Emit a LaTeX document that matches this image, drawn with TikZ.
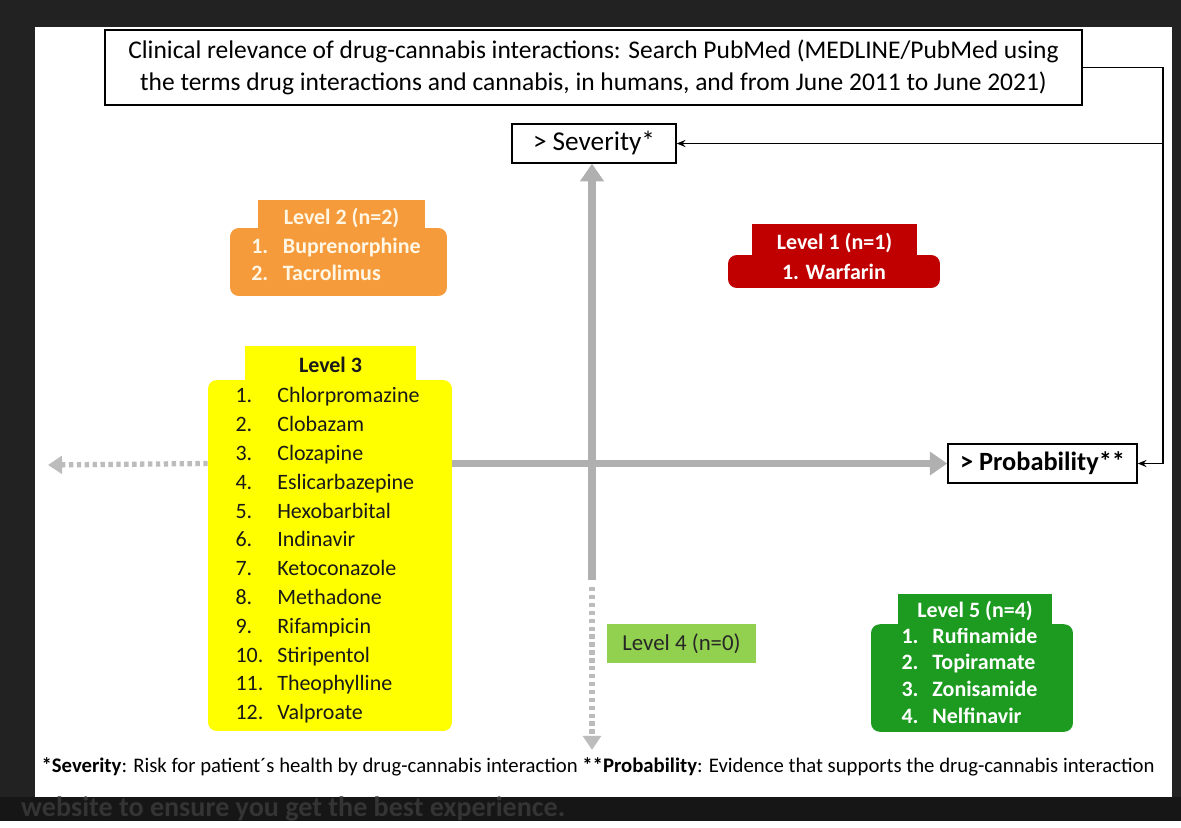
\documentclass[tikz,border=0pt]{standalone}
\usepackage{fontspec}
\setmainfont{Carlito}
\usetikzlibrary{arrows.meta, positioning}
\definecolor{framedark}{RGB}{34,34,34}
\definecolor{framedeep}{RGB}{22,22,22}
\definecolor{cookiegray}{RGB}{52,52,52}
\definecolor{lvlorange}{RGB}{245,155,60}
\definecolor{lvlred}{RGB}{192,0,0}
\definecolor{lvlyellow}{RGB}{255,255,0}
\definecolor{lvllight}{RGB}{146,208,80}
\definecolor{lvlgreen}{RGB}{28,155,32}
\definecolor{axisgray}{RGB}{176,176,176}
\definecolor{cream}{RGB}{255,246,228}

\begin{document}
\begin{tikzpicture}[x=0.02cm, y=-0.02cm,
  txtbox/.style={draw, line width=0.8pt, fill=white, inner sep=0pt, align=center, font=\fontsize{14.5}{18}\selectfont},
  lvlbody/.style={rounded corners=5pt, inner sep=0pt, align=left},
  lvltab/.style={inner sep=0pt, align=center, font=\bfseries\fontsize{12.5}{15}\selectfont},
  conn/.style={-{Stealth[length=5pt,width=4pt]}, line width=0.8pt},
  axis/.style={-{Triangle[length=10pt,width=13pt]}, line width=4.5pt, draw=axisgray},
  axisdot/.style={-{Triangle[length=8pt,width=10pt]}, line width=3pt, draw=axisgray!85, dash pattern=on 2.5pt off 2pt}
]
  % Frame
  \fill[framedeep] (0,0) rectangle (1181,821);
  \fill[framedark] (0,0) rectangle (1181,797);
  \fill[white] (35,27) rectangle (1172,797);
  \node[anchor=west, text=cookiegray, font=\bfseries\fontsize{16}{18}\selectfont] (cookie) at (15,809) {website to ensure you get the best experience.};

  % Search and criteria
  \node[txtbox, minimum width=19.54cm, minimum height=1.5cm] (search) at (593.5,67.5) {
    Clinical relevance of drug-cannabis interactions: Search PubMed (MEDLINE/PubMed using\\
    the terms drug interactions and cannabis, in humans, and from June 2011 to June 2021)
  };
  \node[txtbox, minimum width=3.28cm, minimum height=0.78cm, font=\fontsize{15.5}{18}\selectfont] (sev) at (594,143.5) {> Severity*};
  \node[txtbox, minimum width=3.78cm, minimum height=0.78cm, font=\bfseries\fontsize{15}{18}\selectfont] (prob) at (1042.5,463.5) {> Probability**};

  % Level 2
  \node[lvlbody, fill=lvlorange, text=cream, minimum width=4.34cm, minimum height=1.36cm, font=\bfseries\fontsize{12.5}{15.3}\selectfont] (lvtwo) at (338.5,262) {
    \begin{tabular}{@{}p{18pt}@{}l@{}}1. & Buprenorphine\\ 2. & Tacrolimus\end{tabular}
  };
  \node[lvltab, fill=lvlorange, text=cream, minimum width=3.34cm, minimum height=0.72cm] (lvtwotab) at (341.5,218) {Level 2 (n=2)};

  % Level 1
  \node[lvlbody, fill=lvlred, text=white, minimum width=4.24cm, minimum height=0.66cm, align=center, font=\bfseries\fontsize{12.5}{15}\selectfont] (lvone) at (834,271.5) {1. Warfarin};
  \node[lvltab, fill=lvlred, text=white, minimum width=3.3cm, minimum height=0.76cm] (lvonetab) at (834.5,243) {Level 1 (n=1)};

  % Level 3
  \node[lvlbody, fill=lvlyellow, text=black!90, minimum width=4.88cm, minimum height=7.02cm, font=\fontsize{12.5}{16.4}\selectfont] (lvthree) at (330,555.5) {
    \begin{tabular}{@{}p{23.8pt}@{}l@{}}
      1. & Chlorpromazine\\ 2. & Clobazam\\ 3. & Clozapine\\ 4. & Eslicarbazepine\\
      5. & Hexobarbital\\ 6. & Indinavir\\ 7. & Ketoconazole\\ 8. & Methadone\\
      9. & Rifampicin\\ 10. & Stiripentol\\ 11. & Theophylline\\ 12. & Valproate
    \end{tabular}
  };
  \node[lvltab, fill=lvlyellow, text=black!90, minimum width=3.42cm, minimum height=0.74cm] (lvthreetab) at (330.5,364.5) {Level 3};

  % Level 4
  \node[fill=lvllight, text=black!85, minimum width=2.98cm, minimum height=0.78cm, inner sep=0pt, font=\fontsize{13}{15}\selectfont] (lvfour) at (681.5,643.5) {Level 4 (n=0)};

  % Level 5
  \node[lvlbody, fill=lvlgreen, text=white, minimum width=4.04cm, minimum height=2.12cm, font=\bfseries\fontsize{12.5}{15.3}\selectfont] (lvfive) at (972,678) {
    \begin{tabular}{@{}p{17.6pt}@{}l@{}}1. & Rufinamide\\ 2. & Topiramate\\ 3. & Zonisamide\\ 4. & Nelfinavir\end{tabular}
  };
  \node[lvltab, fill=lvlgreen, text=white, minimum width=3.08cm, minimum height=0.68cm] (lvfivetab) at (975,611) {Level 5 (n=4)};

  % Connectors
  \coordinate (bend) at (1163,143.5);
  \draw[conn] (search.east) -| (bend) |- (prob.east);
  \draw[conn] (bend) -- (sev.east);

  % Axes
  \coordinate (vlow) at (592,580);
  \coordinate (vdot) at (592,587);
  \coordinate (vend) at (592,750);
  \coordinate (hend) at (48,465);
  \draw[axis] (vlow) -- (vlow |- sev.south);
  \draw[axisdot] (vdot) -- (vend);
  \draw[axis] (lvthree.east |- prob.west) -- (prob.west);
  \draw[axisdot] (lvthree.west |- prob.west) -- (hend);

  % Footnote
  \node[font=\fontsize{11.8}{13}\selectfont] (note) at (598,767) {\textbf{*Severity}: Risk for patient´s health by drug-cannabis interaction \textbf{**Probability}: Evidence that supports the drug-cannabis interaction};
\end{tikzpicture}
\end{document}
